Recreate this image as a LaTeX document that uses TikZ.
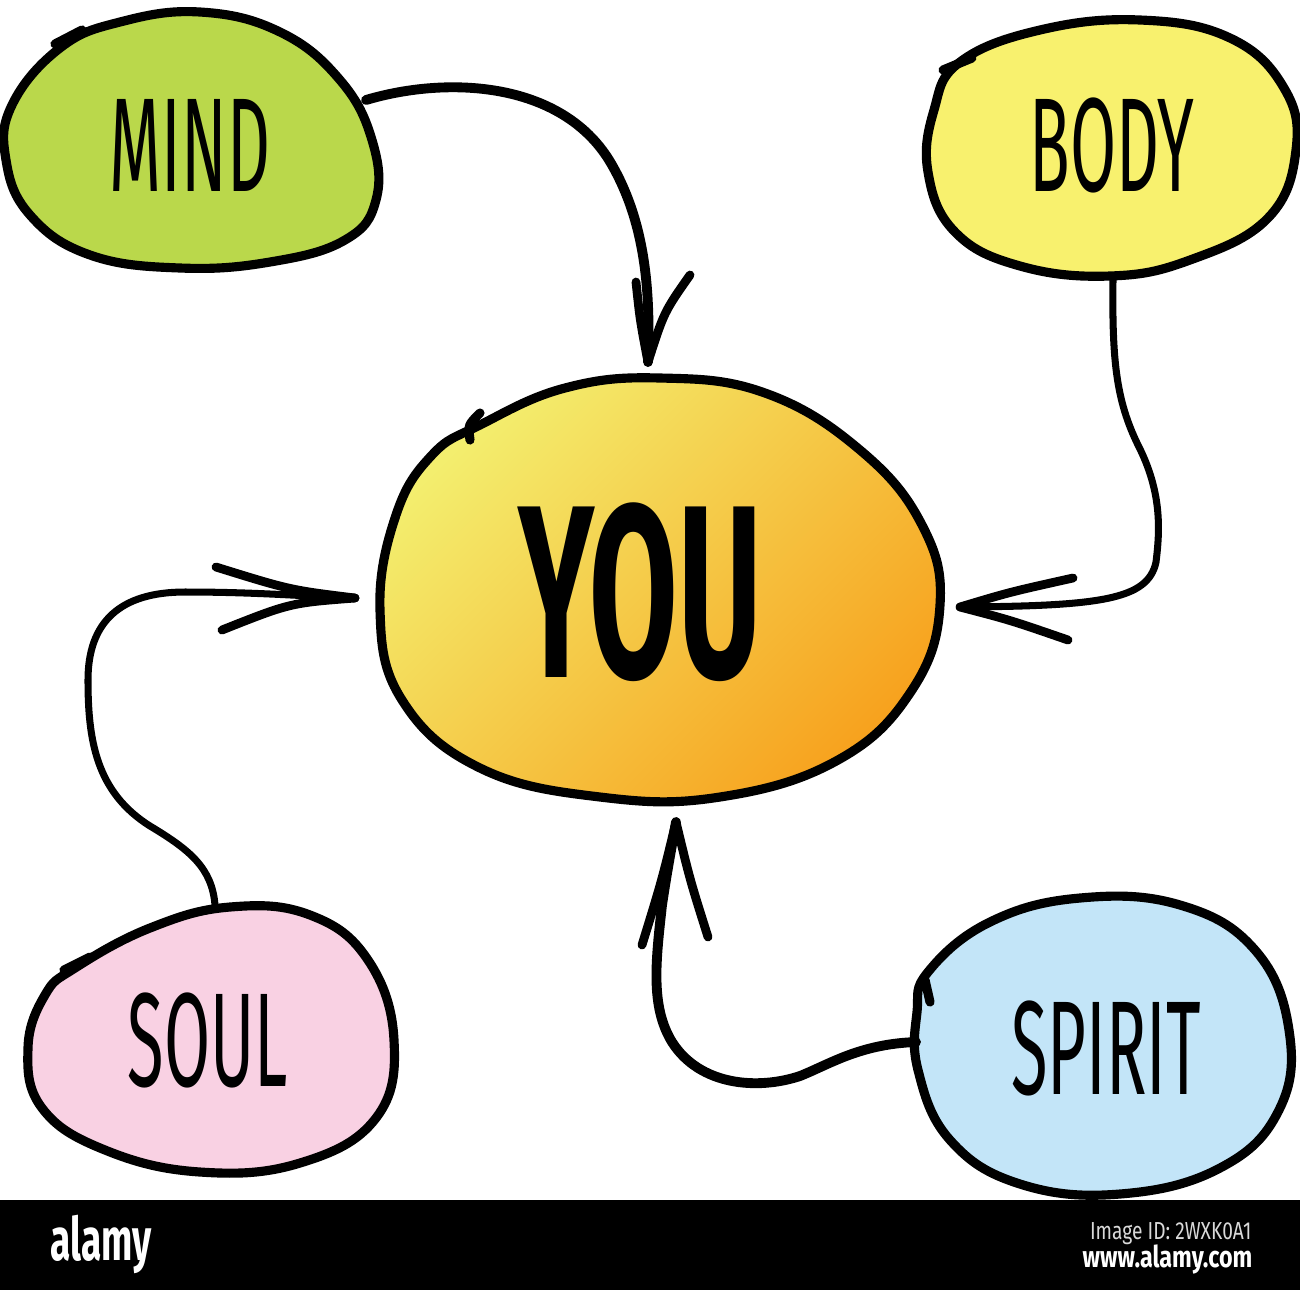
\documentclass[tikz,border=0pt]{standalone}
\usepackage{fontspec}
\newfontfamily\handfont[FakeStretch=0.5]{Fira Sans}
\newfontfamily\youfont[FakeStretch=0.52]{Fira Sans}
\newfontfamily\wmfont[FakeStretch=0.62]{Fira Sans}
\newfontfamily\smallwm[FakeStretch=0.78]{Fira Sans}
\definecolor{mindfill}{HTML}{BAD84B}
\definecolor{bodyfill}{HTML}{F8F16E}
\definecolor{soulfill}{HTML}{F9D1E3}
\definecolor{spiritfill}{HTML}{C3E5F8}
\definecolor{youA}{HTML}{F3EE6E}
\definecolor{youB}{HTML}{F7A21E}
\tikzset{
  blob/.style={draw=black, line width=2.6pt, line join=round},
  tail/.style={draw=black, line width=2.6pt, line cap=round},
  conn/.style={draw=black, line width=2pt, line cap=round},
  barb/.style={draw=black, line width=2.5pt, line cap=round},
  lbl/.style={font=\handfont\fontsize{38}{38}\selectfont, inner sep=0pt},
  youlbl/.style={font=\youfont\bfseries\fontsize{70}{70}\selectfont, inner sep=0pt},
}
\begin{document}
\begin{tikzpicture}[x=0.01cm,y=-0.01cm]
\useasboundingbox (0,0) rectangle (1300,1290);
\fill[white] (0,0) rectangle (1300,1200);
\fill[black] (0,1200) rectangle (1300,1290);

% ---- MIND blob
\path[blob, fill=mindfill] plot[smooth cycle, tension=0.7] coordinates {
 (60,48) (120,22) (200,12) (280,32) (340,80) (372,140) (376,200) (345,240) (270,262) (180,268) (90,255) (30,215) (6,160) (12,105)};
\draw[tail] (55,44) -- (82,30);
% ---- BODY blob
\path[blob, fill=bodyfill] plot[smooth cycle, tension=0.7] coordinates {
 (960,62) (1040,30) (1140,20) (1230,38) (1284,88) (1296,150) (1268,218) (1190,260) (1110,276) (1020,266) (955,232) (928,172) (934,110)};
\draw[tail] (943,70) -- (972,58);
% ---- YOU blob
\shade[top color=youA, bottom color=youB, shading angle=45] plot[smooth cycle, tension=0.7] coordinates {
 (480,425) (565,388) (660,378) (765,393) (860,450) (922,525) (940,605) (912,690) (838,760) (720,797) (600,797) (480,768) (402,700) (380,610) (396,515) (432,455)};
\draw[blob] plot[smooth cycle, tension=0.7] coordinates {
 (480,425) (565,388) (660,378) (765,393) (860,450) (922,525) (940,605) (912,690) (838,760) (720,797) (600,797) (480,768) (402,700) (380,610) (396,515) (432,455)};
\draw[tail] (470,440) .. controls (468,425) .. (480,413);
% ---- SOUL blob
\path[blob, fill=soulfill] plot[smooth cycle, tension=0.7] coordinates {
 (75,968) (150,928) (230,907) (310,915) (368,960) (394,1040) (376,1118) (300,1163) (200,1172) (105,1150) (42,1108) (28,1048) (45,995)};
\draw[tail] (64,970) -- (90,957);
% ---- SPIRIT blob
\path[blob, fill=spiritfill] plot[smooth cycle, tension=0.7] coordinates {
 (928,972) (990,922) (1080,898) (1180,905) (1255,950) (1289,1030) (1279,1110) (1220,1168) (1120,1194) (1020,1184) (950,1140) (918,1070) (917,1012)};
\draw[tail] (925,980) -- (930,1002);

% ---- labels
\node[lbl] (mind) at (190,145) {MIND};
\node[lbl] (body) at (1112,145) {BODY};
\node[lbl] (soul) at (208,1040) {SOUL};
\node[lbl] (spirit) at (1106,1048) {SPIRIT};
\node[youlbl] (you) at (640,592) {YOU};

% ---- connector end points
\coordinate (mindOut) at (366,100);
\coordinate (youTop) at (648,362);
\coordinate (bodyOut) at (1113,280);
\coordinate (youRight) at (960,607);
\coordinate (soulOut) at (215,905);
\coordinate (youLeft) at (355,598);
\coordinate (spiritOut) at (916,1042);
\coordinate (youBottom) at (676,822);

% MIND -> YOU
\draw[conn, line width=2.8pt] (mindOut) .. controls (450,75) and (565,82) .. (612,165)
  .. controls (648,228) and (650,300) .. (youTop);
\draw[barb] (636,282) .. controls (640,320) .. (youTop);
\draw[barb] (690,275) .. controls (664,312) .. (youTop);

% BODY -> YOU
\draw[conn] (bodyOut) .. controls (1112,360) and (1116,400) .. (1138,445)
  .. controls (1162,492) and (1160,530) .. (1156,562)
  .. controls (1148,600) and (1100,606) .. (youRight);
\draw[barb] (1073,578) .. controls (1010,592) .. (youRight);
\draw[barb] (1068,640) .. controls (1010,620) .. (youRight);

% SOUL -> YOU
\draw[conn] (soulOut) .. controls (212,868) and (190,850) .. (150,826)
  .. controls (96,792) and (88,740) .. (88,680)
  .. controls (88,622) and (120,592) .. (185,592)
  .. controls (255,592) and (300,596) .. (youLeft);
\draw[barb] (216,567) .. controls (290,590) .. (youLeft);
\draw[barb] (222,630) .. controls (290,603) .. (youLeft);

% SPIRIT -> YOU
\draw[conn, line width=2.8pt] (spiritOut) .. controls (860,1044) and (830,1064) .. (800,1076)
  .. controls (758,1090) and (700,1086) .. (672,1042)
  .. controls (650,1006) and (656,960) .. (662,905)
  .. controls (668,865) and (673,840) .. (youBottom);
\draw[barb] (642,945) .. controls (662,880) .. (youBottom);
\draw[barb] (708,937) .. controls (690,880) .. (youBottom);

% ---- bottom bar texts
\node[font=\wmfont\bfseries\fontsize{17}{17}\selectfont, text=white, anchor=west, inner sep=0pt] (brand) at (50,1244) {alamy};
\node[font=\smallwm\fontsize{7}{7}\selectfont, text=white!85!black, anchor=east, inner sep=0pt] (imgid) at (1252,1234) {Image ID: 2WXK0A1};
\node[font=\smallwm\bfseries\fontsize{8.5}{8.5}\selectfont, text=white, anchor=east, inner sep=0pt] (www) at (1253,1259) {www.alamy.com};
\end{tikzpicture}
\end{document}
